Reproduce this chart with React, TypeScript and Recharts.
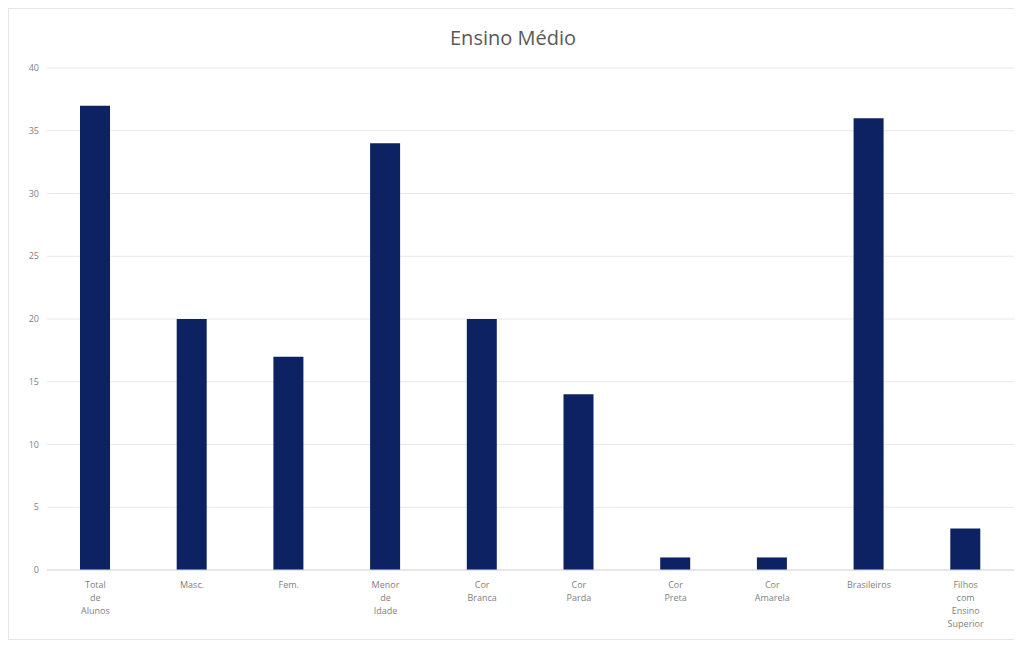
import React from "react";
import { BarChart, Bar, XAxis, YAxis, CartesianGrid } from "recharts";

const categories = [
  "Total de Alunos",
  "Masc.",
  "Fem.",
  "Menor de Idade",
  "Cor Branca",
  "Cor Parda",
  "Cor Preta",
  "Cor Amarela",
  "Brasileiros",
  "Filhos com Ensino Superior",
];
const values = [37, 20, 17, 34, 20, 14, 1, 1, 36, 3.3];
const yTicks = [0, 5, 10, 15, 20, 25, 30, 35, 40];

const data = categories.map((c, i) => ({ name: c, value: values[i] }));

const XTick = (props: any) => {
  const { x, y, payload } = props;
  const lines: string[] = String(payload.value).split(" ");
  return (
    <g transform={`translate(${x},${y})`}>
      {lines.map((l, i) => (
        <text
          key={i}
          x={0}
          y={10 + i * 13}
          textAnchor="middle"
          fontSize={9}
          fill="#7f7f7f"
          fontFamily="Open Sans, sans-serif"
        >
          {l}
        </text>
      ))}
    </g>
  );
};

export default function App() {
  return (
    <div
      style={{
        width: 1008,
        height: 630,
        border: "1px solid #e6e6e6",
        position: "relative",
        background: "#fff",
      }}
    >
      <div
        style={{
          position: "absolute",
          top: 15,
          width: "100%",
          textAlign: "center",
          fontFamily: "Open Sans, sans-serif",
          fontSize: 20,
          color: "#595959",
        }}
      >
        Ensino Médio
      </div>
      <BarChart
        width={1008}
        height={630}
        data={data}
        margin={{ top: 59, right: 3, left: 0, bottom: 0 }}
        barCategoryGap={0}
      >
        <CartesianGrid vertical={false} stroke="#e8e8e8" />
        <XAxis
          dataKey="name"
          interval={0}
          height={69}
          tick={<XTick />}
          tickLine={false}
          axisLine={{ stroke: "#d9d9d9" }}
        />
        <YAxis
          width={38}
          domain={[0, 40]}
          ticks={yTicks}
          tickLine={false}
          axisLine={false}
          tick={{ fontSize: 9, fill: "#7f7f7f", fontFamily: "Open Sans, sans-serif" }}
        />
        <Bar dataKey="value" fill="#0c2262" barSize={30} isAnimationActive={false} />
      </BarChart>
    </div>
  );
}
